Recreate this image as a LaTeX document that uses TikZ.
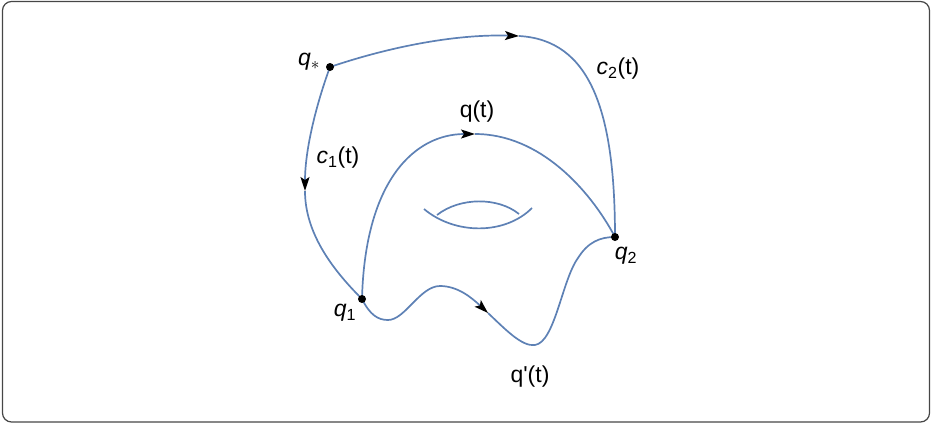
\documentclass[tikz,border=0pt]{standalone}
\usepackage{fontspec}
\setmainfont{Liberation Sans}[Ligatures=TeXOff]
\usetikzlibrary{arrows.meta}
\definecolor{mblue}{RGB}{94,129,181}
\definecolor{frame}{RGB}{70,70,70}
\begin{document}
\begin{tikzpicture}[x=1pt,y=-1pt,
  curve/.style={draw=mblue, line width=1.7pt},
  arr/.style={-{Stealth[length=14pt,width=9pt,inset=3pt,color=black]}},
  dot/.style={circle, fill=black, inner sep=0pt, minimum size=8pt},
  lbl/.style={font=\fontsize{23}{27}\selectfont, inner sep=0pt}]
\useasboundingbox (0,0) rectangle (931,424);
\draw[frame, line width=1.2pt, rounded corners=9pt] (2.5,1.5) rectangle (929.5,422);

% points
\coordinate (qs) at (330,67);
\coordinate (q1) at (362,299);
\coordinate (q2) at (615,237);
\coordinate (a1) at (305,191);
\coordinate (a2) at (519,36);
\coordinate (a3) at (475,134);
\coordinate (a4) at (488,313);

% c1(t)
\draw[curve, arr] (qs) .. controls (316,105) and (305,150) .. (a1);
\draw[curve] (a1) .. controls (305,235) and (335,272) .. (q1);
% c2(t)
\draw[curve, arr] (qs) .. controls (395,45) and (460,34) .. (a2);
\draw[curve] (a2) .. controls (590,40) and (615,110) .. (q2);
% q(t)
\draw[curve, arr] (q1) .. controls (365,180) and (415,134) .. (a3);
\draw[curve] (a3) .. controls (540,134) and (590,190) .. (q2);
% q'(t)
\draw[curve, arr] (q1) .. controls (370,315) and (378,320) .. (388,320)
  .. controls (405,320) and (420,286) .. (440,286)
  .. controls (458,286) and (472,298) .. (a4);
\draw[curve] (a4) .. controls (505,329) and (522,347) .. (535,345)
  .. controls (555,342) and (562,280) .. (578,258)
  .. controls (588,242) and (600,237) .. (q2);

% handle
\draw[curve] (424,209) .. controls (455,235) and (505,235) .. (532,208);
\draw[curve] (437,215) .. controls (460,197) and (498,197) .. (519,214);

% dots
\node[dot] (dqs) at (qs) {};
\node[dot] (dq1) at (q1) {};
\node[dot] (dq2) at (q2) {};

% labels
\node[lbl] (lqs) at (309,62) {\textit{q}$_{\ast}$};
\node[lbl] (lc1) at (338,158) {\textit{c}\textsubscript{1}(t)};
\node[lbl] (lqt) at (477,112) {q(t)};
\node[lbl] (lc2) at (618,69) {\textit{c}\textsubscript{2}(t)};
\node[lbl] (lq2) at (626,256) {\textit{q}\textsubscript{2}};
\node[lbl] (lq1) at (345,313) {\textit{q}\textsubscript{1}};
\node[lbl] (lqp) at (530,377) {q'(t)};
\end{tikzpicture}
\end{document}
